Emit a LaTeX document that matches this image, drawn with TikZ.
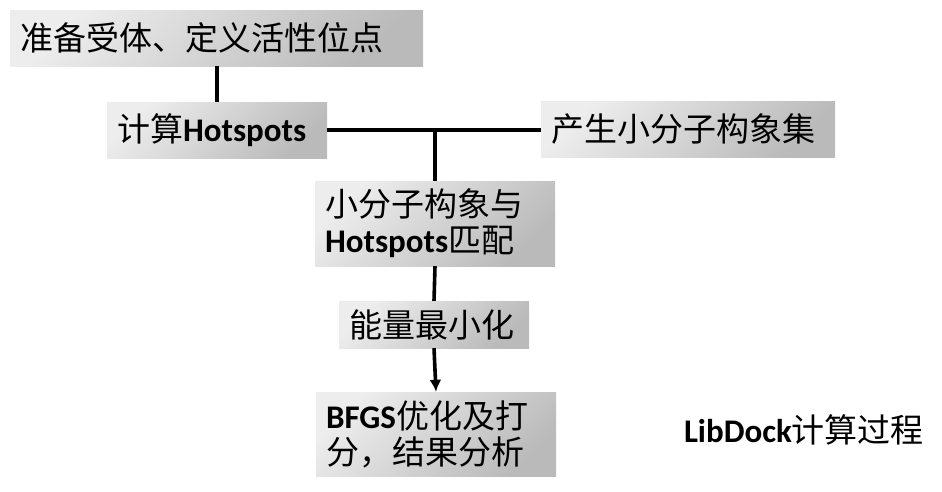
\documentclass[tikz,border=0pt]{standalone}
\usepackage{fontspec}
\setmainfont{Carlito}
\newfontfamily\zhfont{Noto Sans CJK SC}
\newcommand{\zh}[1]{{\zhfont\mdseries #1}}
\usepackage{tikz}
\usetikzlibrary{arrows}
\usetikzlibrary{arrows.meta}
\usetikzlibrary{positioning}

\tikzset{
  box/.style={top color=black!7, bottom color=black!27, shading angle=45,
    inner xsep=10pt, inner ysep=0pt, align=left,
    font=\fontsize{33}{36}\selectfont\bfseries},
  link/.style={line width=3.6pt}
}

\begin{document}
\begin{tikzpicture}[x=1pt, y=-1pt]
      \useasboundingbox (0, 0) rectangle (942, 491);

      \node (prep) at (216.5, 38) [box, text width=393pt, minimum height=56pt] {\zh{准备受体、定义活性位点}};
      \node (hot) at (217, 130) [box, text width=200pt, minimum height=56pt] {\zh{计算}Hotspots};
      \node (conf) at (688, 129) [box, text width=274pt, minimum height=56pt] {\zh{产生小分子构象集}};
      \node (match) at (435, 223.5) [box, text width=220pt, minimum height=85pt] {\zh{小分子构象与}\\Hotspots\zh{匹配}};
      \node (emin) at (434, 324.5) [box, text width=170pt, minimum height=47pt] {\zh{能量最小化}};
      \node (bfgs) at (436, 434) [box, text width=220pt, minimum height=84pt] {BFGS\zh{优化及打}\\\zh{分，结果分析}};

      \node (title) at (804, 430) [font=\fontsize{33}{36}\selectfont\bfseries] {LibDock\zh{计算过程}};

      \coordinate (join) at (match.north |- hot.east);
      \draw [link] (prep.south -| hot.north) -- (hot.north);
      \draw [link] (hot.east) -- (hot.east -| conf.west);
      \draw [link] (join) -- (match.north);
      \draw [link] (match.south) -- (emin.north);
      \draw [link, -{Latex[length=12pt, width=12pt]}] (emin.south) -- (bfgs.north);
    \end{tikzpicture}
\end{document}
